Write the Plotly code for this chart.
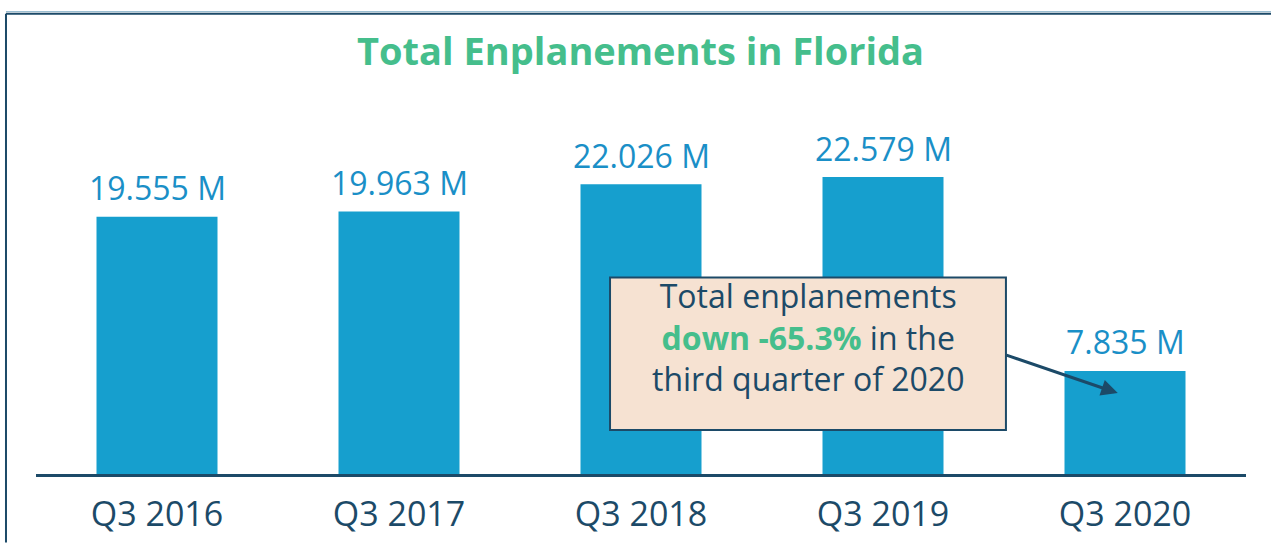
import plotly.graph_objects as go

categories = ["Q3 2016", "Q3 2017", "Q3 2018", "Q3 2019", "Q3 2020"]
enplanements_m = [19.555, 19.963, 22.026, 22.579, 7.835]
title_text = "Total Enplanements in Florida"
callout_pct = -65.3

BAR = "#169FCE"
LABEL = "#1A8FC7"
GREEN = "#45BE8C"
NAVY = "#1C4A68"
BOX = "#F6E2D2"
FONT = "Open Sans"

fig = go.Figure()
fig.add_trace(go.Bar(x=categories, y=enplanements_m, marker_color=BAR,
                     marker_line_width=0, hoverinfo="skip"))

annotations = []
for c, v in zip(categories, enplanements_m):
    annotations.append(dict(x=c, y=v, xref="x", yref="y", text=f"{v:.3f} M",
                            showarrow=False, yanchor="middle", yshift=29,
                            font=dict(family=FONT, size=32, color=LABEL)))

# callout text
annotations.append(dict(
    x=2.69, y=10.4, xref="x", yref="y", showarrow=False,
    xanchor="center", yanchor="middle", align="center",
    text=("Total enplanements<br>"
          f"<b><span style='color:{GREEN}'>down {callout_pct}%</span></b> in the<br>"
          "third quarter of 2020"),
    font=dict(family=FONT, size=32, color=NAVY)))

# arrow
annotations.append(dict(
    x=3.97, y=6.15, xref="x", yref="y", ax=3.504, ay=9.07, axref="x", ayref="y",
    showarrow=True, arrowhead=2, arrowsize=1.1, arrowwidth=3, arrowcolor=NAVY, text=""))

shapes = [
    dict(type="rect", xref="x", yref="y", x0=1.872, x1=3.508, y0=3.35, y1=14.94,
         fillcolor=BOX, line=dict(color=NAVY, width=2), layer="above"),
    dict(type="line", xref="paper", yref="paper", x0=-0.0248, x1=1.05, y0=1.352, y1=1.352,
         line=dict(color="#8FB6CC", width=1)),
    dict(type="line", xref="paper", yref="paper", x0=-0.0248, x1=1.05, y0=1.346, y1=1.346,
         line=dict(color=NAVY, width=2)),
    dict(type="line", xref="paper", yref="paper", x0=-0.0248, x1=-0.0248, y0=1.346, y1=-0.2,
         line=dict(color=NAVY, width=2)),
]

fig.update_layout(
    width=1271, height=548, autosize=False,
    margin=dict(l=36, r=25, t=132, b=66),
    paper_bgcolor="white", plot_bgcolor="white",
    bargap=0.5, showlegend=False,
    title=dict(text=f"<b>{title_text}</b>", x=0.504, xanchor="center",
               y=1 - 52 / 548, yanchor="middle", yref="container",
               font=dict(family=FONT, size=38, color=GREEN)),
    xaxis=dict(showline=True, linecolor=NAVY, linewidth=3, showgrid=False,
               ticks="", tickfont=dict(family=FONT, size=34, color=NAVY),
               ticklabelstandoff=8, fixedrange=True),
    yaxis=dict(range=[0, 26], visible=False, fixedrange=True),
    annotations=annotations, shapes=shapes,
)

fig.write_html("out.html",
               config={"responsive": False, "displayModeBar": False},
               post_script="document.body.style.margin='0';")
